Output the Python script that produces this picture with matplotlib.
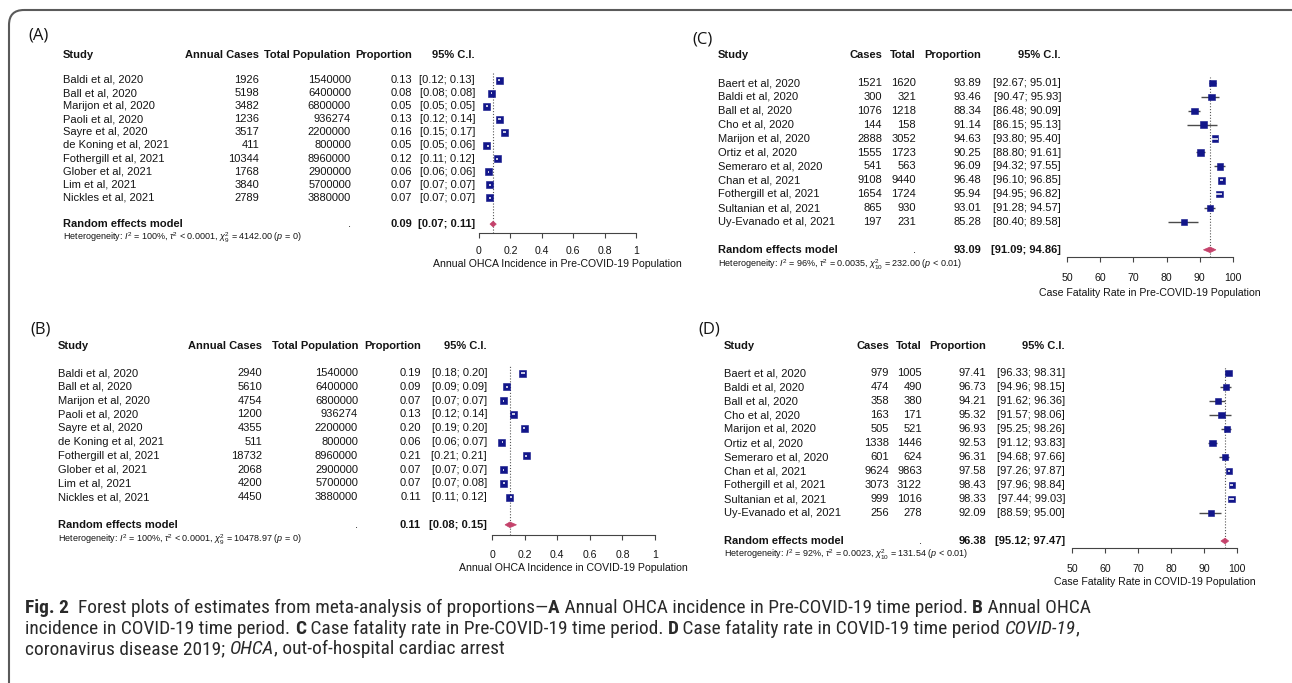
import matplotlib
matplotlib.use("Agg")
import matplotlib.pyplot as plt
from matplotlib.patches import Rectangle, Polygon, FancyBboxPatch
from matplotlib.transforms import blended_transform_factory

W, H, DPI = 1292, 683, 100
TABLE_FONT = ['Liberation Sans', 'DejaVu Sans']
CAP_FONT = ['Liberation Sans Narrow', 'Roboto Condensed', 'Open Sans Condensed', 'Roboto', 'DejaVu Sans']
LABEL_FONT = ['Open Sans', 'DejaVu Sans']
plt.rcParams['font.family'] = TABLE_FONT
plt.rcParams['mathtext.fontset'] = 'custom'
plt.rcParams['mathtext.rm'] = 'Liberation Sans'
plt.rcParams['mathtext.it'] = 'Liberation Sans:italic'
plt.rcParams['mathtext.bf'] = 'Liberation Sans:bold'

# ---------------- data ----------------
inc_studies = ["Baldi et al, 2020", "Ball et al, 2020", "Marijon et al, 2020", "Paoli et al, 2020",
               "Sayre et al, 2020", "de Koning et al, 2021", "Fothergill et al, 2021",
               "Glober et al, 2021", "Lim et al, 2021", "Nickles et al, 2021"]
inc_total = [1540000, 6400000, 6800000, 936274, 2200000, 800000, 8960000, 2900000, 5700000, 3880000]

a_cases = [1926, 5198, 3482, 1236, 3517, 411, 10344, 1768, 3840, 2789]
a_prop = [0.13, 0.08, 0.05, 0.13, 0.16, 0.05, 0.12, 0.06, 0.07, 0.07]
a_lo = [0.12, 0.08, 0.05, 0.12, 0.15, 0.05, 0.11, 0.06, 0.07, 0.07]
a_hi = [0.13, 0.08, 0.05, 0.14, 0.17, 0.06, 0.12, 0.06, 0.07, 0.07]
a_pooled = [0.09, 0.07, 0.11]
a_het = r"Heterogeneity: $I^2$ = 100%, $\tau^2$ < 0.0001, $\chi^2_{9}$ = 4142.00 ($p$ = 0)"

b_cases = [2940, 5610, 4754, 1200, 4355, 511, 18732, 2068, 4200, 4450]
b_prop = [0.19, 0.09, 0.07, 0.13, 0.20, 0.06, 0.21, 0.07, 0.07, 0.11]
b_lo = [0.18, 0.09, 0.07, 0.12, 0.19, 0.06, 0.21, 0.07, 0.07, 0.11]
b_hi = [0.20, 0.09, 0.07, 0.14, 0.20, 0.07, 0.21, 0.07, 0.08, 0.12]
b_pooled = [0.11, 0.08, 0.15]
b_het = r"Heterogeneity: $I^2$ = 100%, $\tau^2$ < 0.0001, $\chi^2_{9}$ = 10478.97 ($p$ = 0)"

cfr_studies = ["Baert et al, 2020", "Baldi et al, 2020", "Ball et al, 2020", "Cho et al, 2020",
               "Marijon et al, 2020", "Ortiz et al, 2020", "Semeraro et al, 2020", "Chan et al, 2021",
               "Fothergill et al, 2021", "Sultanian et al, 2021", "Uy-Evanado et al, 2021"]

c_cases = [1521, 300, 1076, 144, 2888, 1555, 541, 9108, 1654, 865, 197]
c_total = [1620, 321, 1218, 158, 3052, 1723, 563, 9440, 1724, 930, 231]
c_prop = [93.89, 93.46, 88.34, 91.14, 94.63, 90.25, 96.09, 96.48, 95.94, 93.01, 85.28]
c_lo = [92.67, 90.47, 86.48, 86.15, 93.80, 88.80, 94.32, 96.10, 94.95, 91.28, 80.40]
c_hi = [95.01, 95.93, 90.09, 95.13, 95.40, 91.61, 97.55, 96.85, 96.82, 94.57, 89.58]
c_pooled = [93.09, 91.09, 94.86]
c_het = r"Heterogeneity: $I^2$ = 96%, $\tau^2$ = 0.0035, $\chi^2_{10}$ = 232.00 ($p$ < 0.01)"

d_cases = [979, 474, 358, 163, 505, 1338, 601, 9624, 3073, 999, 256]
d_total = [1005, 490, 380, 171, 521, 1446, 624, 9863, 3122, 1016, 278]
d_prop = [97.41, 96.73, 94.21, 95.32, 96.93, 92.53, 96.31, 97.58, 98.43, 98.33, 92.09]
d_lo = [96.33, 94.96, 91.62, 91.57, 95.25, 91.12, 94.68, 97.26, 97.96, 97.44, 88.59]
d_hi = [98.31, 98.15, 96.36, 98.06, 98.26, 93.83, 97.66, 97.87, 98.84, 99.03, 95.00]
d_pooled = [96.38, 95.12, 97.47]
d_het = r"Heterogeneity: $I^2$ = 92%, $\tau^2$ = 0.0023, $\chi^2_{10}$ = 131.54 ($p$ < 0.01)"

inc_ticks = [0, 0.2, 0.4, 0.6, 0.8, 1]
inc_ticklabels = ["0", "0.2", "0.4", "0.6", "0.8", "1"]
cfr_ticks = [50, 60, 70, 80, 90, 100]
cfr_ticklabels = ["50", "60", "70", "80", "90", "100"]

inc_headers = ["Study", "Annual Cases", "Total Population", "Proportion", "95% C.I."]
cfr_headers = ["Study", "Cases", "Total", "Proportion", "95% C.I."]

BOX = '#12168a'
DIAM = '#c4426b'
TXT = '#141414'

fig = plt.figure(figsize=(W / DPI, H / DPI), dpi=DPI)
bg = fig.add_axes([0, 0, 1, 1], zorder=0)
bg.set_xlim(0, W)
bg.set_ylim(H, 0)
bg.axis('off')

bg.add_patch(FancyBboxPatch((9, 10), W + 14 - 9, H + 40,
                            boxstyle="round,pad=0,rounding_size=15",
                            fill=False, ec='#5a5a5a', lw=1.5))


def panel(P):
    n = len(P['studies'])
    x0, x1 = P['ax_x']
    xmin, xmax = P['xlim']
    row0, dy, ytop, yaxis = P['row0'], P['dy'], P['ytop'], P['yaxis']
    ax = fig.add_axes([x0 / W, 1 - yaxis / H, (x1 - x0) / W, (yaxis - ytop) / H], zorder=2)
    ax.set_xlim(xmin, xmax)
    ax.set_ylim((yaxis - row0) / dy, (ytop - row0) / dy)
    ax.patch.set_visible(False)
    for s in ['top', 'right', 'left']:
        ax.spines[s].set_visible(False)
    ax.spines['bottom'].set_color('#444')
    ax.spines['bottom'].set_linewidth(0.8)
    ax.set_yticks([])
    ax.set_xticks(P['ticks'])
    ax.set_xticklabels(P['ticklabels'])
    pad = (P['ytick'] - yaxis - 5 - 5.5) * 0.72
    ax.tick_params(axis='x', direction='out', length=3.6, width=0.8, color='#444',
                   labelsize=7.6, labelcolor=TXT, pad=pad)
    pxu = (x1 - x0) / (xmax - xmin)
    bw = P['box'] / pxu
    bh = P['box'] / dy
    est, plo, phi = P['pooled']
    ax.axvline(est, color='#555', lw=0.8, ls=(0, (1, 1.6)), zorder=1)
    for i in range(n):
        p, l, h = P['prop'][i], P['lo'][i], P['hi'][i]
        if h - l > bw:
            ax.plot([l, h], [i, i], color='#4a4a4a', lw=1.0, solid_capstyle='butt',
                    zorder=2, clip_on=False)
        ax.add_patch(Rectangle((p - bw / 2, i - bh / 2), bw, bh, fc=BOX, ec=BOX,
                               lw=0.4, zorder=3, clip_on=False))
        if h - l <= bw:
            c = (l + h) / 2
            half = max((h - l) / 2, 0.9 / pxu)
            ax.plot([c - half, c + half], [i, i], color='white', lw=1.1,
                    solid_capstyle='butt', zorder=4, clip_on=False)
    s = n + 1
    dh = 2.8 / dy
    ax.add_patch(Polygon([(plo, s), (est, s - dh), (phi, s), (est, s + dh)], closed=True,
                         fc=DIAM, ec=DIAM, lw=0.5, zorder=3, clip_on=False))

    tr = blended_transform_factory(bg.transData, ax.transData)
    cx = P['cols']
    hy = P['header_y']
    fs = 8
    bg.text(cx[0], hy, P['headers'][0], ha='left', va='center', fontsize=fs, fontweight='bold', color=TXT)
    for k in range(1, 5):
        bg.text(cx[k], hy, P['headers'][k], ha='right', va='center', fontsize=fs,
                fontweight='bold', color=TXT)
    for i in range(n):
        bg.text(cx[0], i, P['studies'][i], transform=tr, ha='left', va='center', fontsize=fs, color=TXT)
        bg.text(cx[1], i, str(P['cases'][i]), transform=tr, ha='right', va='center', fontsize=fs, color=TXT)
        bg.text(cx[2], i, str(P['total'][i]), transform=tr, ha='right', va='center', fontsize=fs, color=TXT)
        bg.text(cx[3], i, f"{P['prop'][i]:.2f}", transform=tr, ha='right', va='center', fontsize=fs, color=TXT)
        bg.text(cx[4], i, f"[{P['lo'][i]:.2f}; {P['hi'][i]:.2f}]", transform=tr, ha='right',
                va='center', fontsize=fs, color=TXT)
    bg.text(cx[0], s, "Random effects model", transform=tr, ha='left', va='center', fontsize=fs,
            fontweight='bold', color=TXT)
    bg.text(cx[2], s, ".", transform=tr, ha='right', va='center', fontsize=fs, color=TXT)
    bg.text(cx[3], s, f"{est:.2f}", transform=tr, ha='right', va='center', fontsize=fs,
            fontweight='bold', color=TXT)
    bg.text(cx[4], s, f"[{plo:.2f}; {phi:.2f}]", transform=tr, ha='right', va='center', fontsize=fs,
            fontweight='bold', color=TXT)
    bg.text(cx[0], P['het_y'], P['het'], ha='left', va='center', fontsize=6.5, color=TXT)
    bg.text((x0 + x1) / 2, P['xlab_y'], P['xlabel'], ha='center', va='center', fontsize=7.6, color=TXT)
    bg.text(P['label_xy'][0], P['label_xy'][1], P['label'], ha='left', va='center', fontsize=12,
            family=LABEL_FONT, color=TXT)


panels = [
    dict(label="(A)", label_xy=(28, 35), studies=inc_studies, cases=a_cases, total=inc_total,
         prop=a_prop, lo=a_lo, hi=a_hi, pooled=a_pooled, het=a_het, headers=inc_headers,
         xlabel="Annual OHCA Incidence in Pre-COVID-19 Population",
         ax_x=(479, 636), xlim=(0, 1), ticks=inc_ticks, ticklabels=inc_ticklabels,
         row0=80, dy=13.1, ytop=73, yaxis=233, ytick=252, xlab_y=264, header_y=55, het_y=238,
         cols=[63, 259, 351, 412, 475], box=7),
    dict(label="(B)", label_xy=(30, 330), studies=inc_studies, cases=b_cases, total=inc_total,
         prop=b_prop, lo=b_lo, hi=b_hi, pooled=b_pooled, het=b_het, headers=inc_headers,
         xlabel="Annual OHCA Incidence in COVID-19 Population",
         ax_x=(492, 655), xlim=(0, 1), ticks=inc_ticks, ticklabels=inc_ticklabels,
         row0=373, dy=13.8, ytop=366, yaxis=535, ytick=555, xlab_y=568, header_y=346, het_y=540,
         cols=[58, 262, 358, 421, 487], box=7),
    dict(label="(C)", label_xy=(692, 40), studies=cfr_studies, cases=c_cases, total=c_total,
         prop=c_prop, lo=c_lo, hi=c_hi, pooled=c_pooled, het=c_het, headers=cfr_headers,
         xlabel="Case Fatality Rate in Pre-COVID-19 Population",
         ax_x=(1067, 1233), xlim=(50, 100), ticks=cfr_ticks, ticklabels=cfr_ticklabels,
         row0=83, dy=13.9, ytop=77, yaxis=257, ytick=279, xlab_y=293, header_y=55, het_y=265,
         cols=[718, 882, 916, 981, 1061], box=6.5),
    dict(label="(D)", label_xy=(698, 330), studies=cfr_studies, cases=d_cases, total=d_total,
         prop=d_prop, lo=d_lo, hi=d_hi, pooled=d_pooled, het=d_het, headers=cfr_headers,
         xlabel="Case Fatality Rate in COVID-19 Population",
         ax_x=(1072, 1237), xlim=(50, 100), ticks=cfr_ticks, ticklabels=cfr_ticklabels,
         row0=373, dy=14.0, ytop=367, yaxis=548, ytick=569, xlab_y=582, header_y=346, het_y=555,
         cols=[724, 889, 922, 986, 1065], box=6.5),
]
for P in panels:
    panel(P)

# ---------------- caption ----------------
cap_lines = [
    [("Fig. 2", 'bold', 'normal'),
     ("  Forest plots of estimates from meta-analysis of proportions\u2014", 'normal', 'normal'),
     ("A", 'bold', 'normal'),
     (" Annual OHCA incidence in Pre-COVID-19 time period. ", 'normal', 'normal'),
     ("B", 'bold', 'normal'), (" Annual OHCA", 'normal', 'normal')],
    [("incidence in COVID-19 time period. ", 'normal', 'normal'), ("C", 'bold', 'normal'),
     (" Case fatality rate in Pre-COVID-19 time period. ", 'normal', 'normal'),
     ("D", 'bold', 'normal'), (" Case fatality rate in COVID-19 time period ", 'normal', 'normal'),
     ("COVID-19", 'normal', 'italic'), (",", 'normal', 'normal')],
    [("coronavirus disease 2019; ", 'normal', 'normal'), ("OHCA", 'normal', 'italic'),
     (", out-of-hospital cardiac arrest", 'normal', 'normal')],
]
cap_y = [608, 628.5, 649]
cap_x = 25
renderer = fig.canvas.get_renderer()


def draw_runs(x, y, runs, size):
    texts = []
    for txt, wt, st in runs:
        t = bg.text(x, y, txt, fontsize=size, family=CAP_FONT, fontweight=wt, fontstyle=st,
                    ha='left', va='center', color='#2a2a2a')
        x += t.get_window_extent(renderer=renderer).width
        texts.append(t)
    return x, texts


cap_size = 10.0
for _ in range(2):
    end, tmp = draw_runs(cap_x, cap_y[0], cap_lines[0], cap_size)
    for t in tmp:
        t.remove()
    cap_size = cap_size * (1090 - cap_x) / (end - cap_x)
for y, runs in zip(cap_y, cap_lines):
    draw_runs(cap_x, y, runs, cap_size)

fig.savefig("out.png", dpi=DPI)
